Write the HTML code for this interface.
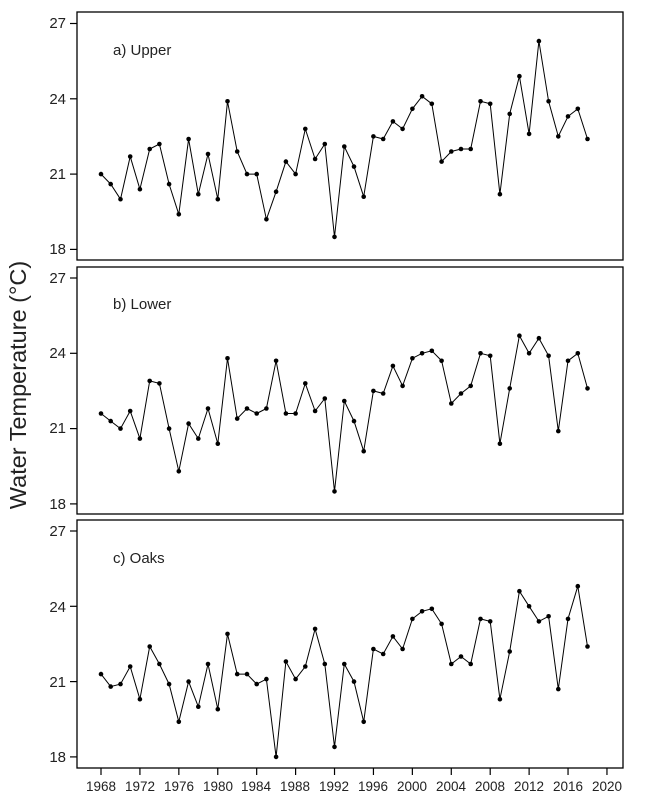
<!DOCTYPE html>
<html><head><meta charset="utf-8"><style>
html,body{margin:0;padding:0;background:#fff;}
svg{display:block;font-family:"Liberation Sans",sans-serif;}
</style></head><body>
<svg id="s" width="650" height="804" viewBox="0 0 650 804" xmlns="http://www.w3.org/2000/svg">
<rect width="650" height="804" fill="#fff"/>
<g fill="none" stroke="#000" stroke-width="1.3">
<rect x="77" y="12" width="546" height="248"/>
<rect x="77" y="267" width="546" height="247"/>
<rect x="77" y="520" width="546" height="248"/>
</g>
<g font-size="15" fill="#222" text-anchor="end">
<text x="66" y="28">27</text><text x="66" y="104">24</text><text x="66" y="179">21</text><text x="66" y="254">18</text>
<text x="66" y="283">27</text><text x="66" y="358">24</text><text x="66" y="433">21</text><text x="66" y="509">18</text>
<text x="66" y="536">27</text><text x="66" y="612">24</text><text x="66" y="687">21</text><text x="66" y="762">18</text>
</g>
<g font-size="15" fill="#222">
<text x="113" y="55">a) Upper</text>
<text x="113" y="309">b) Lower</text>
<text x="113" y="563">c) Oaks</text>
</g>
<text transform="translate(26,385) rotate(-90)" font-size="23.5" fill="#222" text-anchor="middle">Water Temperature (°C)</text>
<g font-size="13.5" fill="#222" text-anchor="middle">
<text x="101" y="791">1968</text><text x="140" y="791">1972</text><text x="179" y="791">1976</text><text x="218" y="791">1980</text>
<text x="256" y="791">1984</text><text x="295" y="791">1988</text><text x="334" y="791">1992</text><text x="373" y="791">1996</text>
<text x="412" y="791">2000</text><text x="451" y="791">2004</text><text x="490" y="791">2008</text><text x="529" y="791">2012</text>
<text x="568" y="791">2016</text><text x="607" y="791">2020</text>
</g>
<g id="g"></g>
</svg>
<script>
var A=[21.0,20.6,20.0,21.7,20.4,22.0,22.2,20.6,19.4,22.4,20.2,21.8,20.0,23.9,21.9,21.0,21.0,19.2,20.3,21.5,21.0,22.8,21.6,22.2,18.5,22.1,21.3,20.1,22.5,22.4,23.1,22.8,23.6,24.1,23.8,21.5,21.9,22.0,22.0,23.9,23.8,20.2,23.4,24.9,22.6,26.3,23.9,22.5,23.3,23.6,22.4];
var B=[21.6,21.3,21.0,21.7,20.6,22.9,22.8,21.0,19.3,21.2,20.6,21.8,20.4,23.8,21.4,21.8,21.6,21.8,23.7,21.6,21.6,22.8,21.7,22.2,18.5,22.1,21.3,20.1,22.5,22.4,23.5,22.7,23.8,24.0,24.1,23.7,22.0,22.4,22.7,24.0,23.9,20.4,22.6,24.7,24.0,24.6,23.9,20.9,23.7,24.0,22.6];
var C=[21.3,20.8,20.9,21.6,20.3,22.4,21.7,20.9,19.4,21.0,20.0,21.7,19.9,22.9,21.3,21.3,20.9,21.1,18.0,21.8,21.1,21.6,23.1,21.7,18.4,21.7,21.0,19.4,22.3,22.1,22.8,22.3,23.5,23.8,23.9,23.3,21.7,22.0,21.7,23.5,23.4,20.3,22.2,24.6,24.0,23.4,23.6,20.7,23.5,24.8,22.4];
var s="";
function X(i){return 101+i*9.73;}
[[A,23.5],[B,278],[C,531]].forEach(function(p){
 var d=p[0],t=p[1],pts=[];
 d.forEach(function(v,i){var y=t+(27-v)*25.1;pts.push(X(i).toFixed(1)+","+y.toFixed(1));s+='<circle cx="'+X(i).toFixed(1)+'" cy="'+y.toFixed(1)+'" r="2.3" fill="#000"/>';});
 s+='<polyline points="'+pts.join(" ")+'" fill="none" stroke="#000" stroke-width="1"/>';
 [27,24,21,18].forEach(function(v){var y=t+(27-v)*25.1;s+='<line x1="70" x2="77" y1="'+y+'" y2="'+y+'" stroke="#000" stroke-width="1.2"/>';});
});
for(var k=0;k<14;k++){var x=X(k*4);s+='<line x1="'+x+'" x2="'+x+'" y1="768" y2="775" stroke="#000" stroke-width="1.2"/>';}
document.getElementById("g").innerHTML=s;
</script>
</body></html>
